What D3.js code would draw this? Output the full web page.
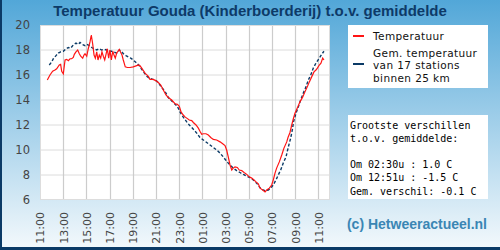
<!DOCTYPE html>
<html><head><meta charset="utf-8">
<script src="https://cdn.jsdelivr.net/npm/d3@7"></script>
<style>html,body{margin:0;padding:0;overflow:hidden;background:#fff}</style>
</head><body>
<script>
// hours after 11:00 (day 1)
const redT = [0.63,0.86,1.09,1.29,1.44,1.66,1.78,1.87,2.01,2.16,2.30,2.44,2.59,2.73,2.87,2.96,3.10,3.25,3.39,3.51,3.68,3.79,3.88,4.03,4.16,4.31,4.42,4.54,4.66,4.77,4.89,5.00,5.11,5.23,5.34,5.46,5.58,5.69,5.80,5.92,6.03,6.15,6.27,6.38,6.49,6.61,6.72,6.84,6.96,7.07,7.18,7.35,7.53,7.76,8.04,8.34,8.51,8.62,8.77,9.05,9.34,9.48,9.77,9.97,10.20,10.41,10.63,10.86,11.06,11.35,11.64,11.84,12.01,12.16,12.35,12.50,12.65,12.87,13.08,13.22,13.45,13.65,13.79,13.94,14.08,14.31,14.51,14.72,14.94,15.23,15.52,15.75,15.95,16.09,16.23,16.38,16.53,16.66,16.81,17.01,17.18,17.39,17.59,17.82,18.04,18.25,18.45,18.62,18.82,18.97,19.20,19.40,19.54,19.77,19.97,20.11,20.26,20.40,20.63,20.84,21.03,21.27,21.38,21.55,21.70,21.84,21.98,22.18,22.41,22.65,22.84,23.04,23.22,23.42,23.62,23.79,23.91,24.08,24.22,24.37,24.48];
const redV = [15.6,16.0,16.3,16.4,16.5,16.8,16.85,16.3,16.1,17.2,17.25,17.15,17.3,17.3,17.4,17.65,17.85,18.0,17.7,17.5,17.35,17.6,17.7,17.5,18.1,18.65,19.2,18.5,17.6,17.35,17.85,17.2,17.6,17.35,17.85,17.5,17.2,17.65,18.1,17.35,18.0,17.2,17.9,17.6,17.35,17.75,17.9,18.05,17.8,17.6,17.2,16.65,16.6,16.6,16.65,16.75,16.8,16.75,16.55,16.15,15.9,15.65,15.65,15.55,15.4,15.2,14.8,14.4,14.2,14.0,13.7,13.65,13.5,13.05,12.8,12.65,12.55,12.4,12.35,12.2,12.0,11.75,11.5,11.25,11.3,11.3,11.2,11.0,10.85,10.8,10.65,10.5,10.35,10.0,9.45,8.8,8.4,8.55,8.65,8.6,8.4,8.35,8.2,8.05,7.85,7.75,7.6,7.45,7.3,6.95,6.8,6.65,6.8,6.95,7.2,7.6,8.15,8.55,9.05,9.6,10.15,10.65,11.0,11.4,12.0,12.5,12.95,13.35,13.85,14.25,14.65,15.05,15.45,15.85,16.25,16.4,16.55,16.8,16.95,17.35,17.2];
const gemT = [0.80,1.01,1.15,1.38,1.58,1.78,2.01,2.24,2.44,2.65,2.87,3.10,3.30,3.45,3.59,3.73,3.88,4.03,4.25,4.46,4.66,4.89,5.11,5.32,5.52,5.75,5.97,6.18,6.38,6.61,6.84,7.04,7.24,7.41,7.61,7.82,8.04,8.28,8.56,8.77,8.97,9.20,9.42,9.72,10.00,10.20,10.41,10.63,10.86,11.06,11.27,11.49,11.72,11.92,12.07,12.22,12.41,12.65,12.87,13.08,13.28,13.51,13.79,14.08,14.37,14.66,14.94,15.23,15.52,15.80,16.09,16.38,16.66,16.96,17.24,17.53,17.82,18.10,18.39,18.68,18.91,19.11,19.40,19.68,19.89,20.11,20.34,20.54,20.75,20.97,21.21,21.41,21.61,21.78,21.84,22.07,22.27,22.47,22.70,22.93,23.13,23.34,23.56,23.79,24.08,24.28,24.48];
const gemV = [16.8,17.05,17.3,17.55,17.75,17.85,17.9,18.1,18.2,18.15,18.4,18.55,18.45,18.6,18.5,18.4,18.35,18.45,18.35,18.2,18.1,18.0,18.1,18.0,18.05,18.0,17.9,17.9,17.85,17.75,18.0,17.85,17.65,17.55,17.45,17.35,17.2,17.0,16.75,16.45,16.2,15.9,15.75,15.65,15.55,15.4,15.1,14.85,14.55,14.2,14.0,13.8,13.6,13.35,13.05,12.8,12.55,12.25,12.0,11.8,11.6,11.35,11.0,10.8,10.6,10.4,10.2,10.0,9.75,9.45,9.1,8.8,8.55,8.35,8.2,8.05,7.9,7.8,7.6,7.35,7.05,6.85,6.75,6.8,6.95,7.2,7.6,8.0,8.4,8.95,9.45,10.25,10.95,11.75,12.2,12.95,13.45,14.0,14.55,15.05,15.6,16.0,16.55,16.95,17.35,17.65,17.9];
const xTickHours = [0,2,4,6,8,10,12,14,16,18,20,22,24];
const xTickLabels = ["11:00","13:00","15:00","17:00","19:00","21:00","23:00","01:00","03:00","05:00","07:00","09:00","11:00"];
const yTicks = [6,8,10,12,14,16,18,20];
const title = "Temperatuur Gouda (Kinderboerderij) t.o.v. gemiddelde";
const legendLabels = [["Temperatuur"],["Gem. temperatuur","van 17 stations","binnen 25 km"]];
const infoLines = ["Grootste verschillen","t.o.v. gemiddelde:","","Om 02:30u : 1.0 C","Om 12:51u : -1.5 C","Gem. verschil: -0.1 C"];
const credit = "(c) Hetweeractueel.nl";

const W=500,H=250;
const svg=d3.select("body").append("svg").attr("width",W).attr("height",H);
const defs=svg.append("defs");
const g=defs.append("linearGradient").attr("id","bg").attr("x1",0).attr("y1",0).attr("x2",0).attr("y2",1);
g.append("stop").attr("offset","0%").attr("stop-color","#52a7d8");
g.append("stop").attr("offset","100%").attr("stop-color","#f4f9fc");
svg.append("rect").attr("width",W).attr("height",H).attr("fill","url(#bg)");
svg.append("rect").attr("x",0).attr("y",0).attr("width",2).attr("height",H).attr("fill","#0b3a66");
svg.append("rect").attr("x",0).attr("y",247).attr("width",W).attr("height",3).attr("fill","#0b3a66");

svg.append("text").attr("x",250).attr("y",16).attr("text-anchor","middle")
  .attr("font-family","Liberation Sans, Arial, sans-serif").attr("font-weight","bold")
  .attr("font-size",15).attr("fill","#0d3a68").text(title);

const x=d3.scaleLinear().domain([0,25]).range([40,330]);
const y=d3.scaleLinear().domain([6,20]).range([200,25]);

svg.append("rect").attr("x",40).attr("y",25).attr("width",290).attr("height",175).attr("fill","#fff");
// grid
svg.append("g").selectAll("line").data(yTicks.slice(1,-1)).join("line")
  .attr("x1",40).attr("x2",330).attr("y1",d=>y(d)).attr("y2",d=>y(d))
  .attr("stroke","#dcdcdc").attr("stroke-width",1);
svg.append("g").selectAll("line").data(xTickHours.slice(1)).join("line")
  .attr("x1",d=>Math.round(x(d))+0.5).attr("x2",d=>Math.round(x(d))+0.5).attr("y1",25).attr("y2",200)
  .attr("stroke","#cccccc").attr("stroke-width",1.2);
svg.append("rect").attr("x",40.5).attr("y",25.5).attr("width",289).attr("height",174).attr("fill","none").attr("stroke","#dddddd");

// y axis
const yAx=svg.append("g").attr("transform","translate(40,0)")
  .call(d3.axisLeft(y).tickValues(yTicks).tickSize(0).tickPadding(10));
yAx.select(".domain").remove();
yAx.selectAll("text").attr("font-family","DejaVu Sans, sans-serif").attr("font-size",11.5).attr("fill","#444");

// x axis
const xAx=svg.append("g").attr("transform","translate(0,200)")
  .call(d3.axisBottom(x).tickValues(xTickHours).tickFormat((d,i)=>xTickLabels[i]).tickSize(0));
xAx.select(".domain").remove();
xAx.selectAll("text").attr("font-family","DejaVu Sans, sans-serif").attr("font-size",11).attr("fill","#444")
  .attr("text-anchor","end").attr("transform","rotate(-90)").attr("x",-12).attr("y",0).attr("dy","0.35em");

const line=d3.line().x(d=>x(d[0])).y(d=>y(d[1]));
svg.append("path").datum(gemT.map((t,i)=>[t,gemV[i]])).attr("d",line).attr("fill","none")
  .attr("stroke","#0b3a66").attr("stroke-width",1.4).attr("stroke-dasharray","3,2");
svg.append("path").datum(redT.map((t,i)=>[t,redV[i]])).attr("d",line).attr("fill","none")
  .attr("stroke","#ff1414").attr("stroke-width",1.2);

// legend
svg.append("rect").attr("x",348).attr("y",25).attr("width",140).attr("height",63).attr("fill","#fff");
svg.append("line").attr("x1",353).attr("x2",364).attr("y1",36).attr("y2",36).attr("stroke","#ff1414").attr("stroke-width",2);
svg.append("line").attr("x1",353).attr("x2",364).attr("y1",64).attr("y2",64).attr("stroke","#0b3a66").attr("stroke-width",2);
const lf={"font-family":"DejaVu Sans, sans-serif","font-size":10.5,"letter-spacing":0.4,"fill":"#111"};
function styl(sel,o){for(const k in o) sel.attr(k,o[k]); return sel;}
styl(svg.append("text").attr("x",373).attr("y",40).text(legendLabels[0][0]),lf);
legendLabels[1].forEach((s,i)=>styl(svg.append("text").attr("x",373).attr("y",57+i*12.4).text(s),lf));

// info box
svg.append("rect").attr("x",348).attr("y",115).attr("width",140).attr("height",84).attr("fill","#fff");
const it=svg.append("text").attr("x",350).attr("y",129)
  .attr("font-family","DejaVu Sans Mono, monospace").attr("font-size",10).attr("fill","#000")
  .attr("xml:space","preserve").style("white-space","pre");
let dy=0;
infoLines.forEach((s,i)=>{ if(s){ it.append("tspan").attr("x",350).attr("dy",i?dy:0).text(s); dy=13.1;} else dy+=13.1; });

svg.append("text").attr("x",487).attr("y",229).attr("text-anchor","end")
  .attr("font-family","Liberation Sans, Arial, sans-serif").attr("font-weight","bold").attr("font-size",14)
  .attr("fill","#3a86b4").text(credit);
</script>
</body></html>
